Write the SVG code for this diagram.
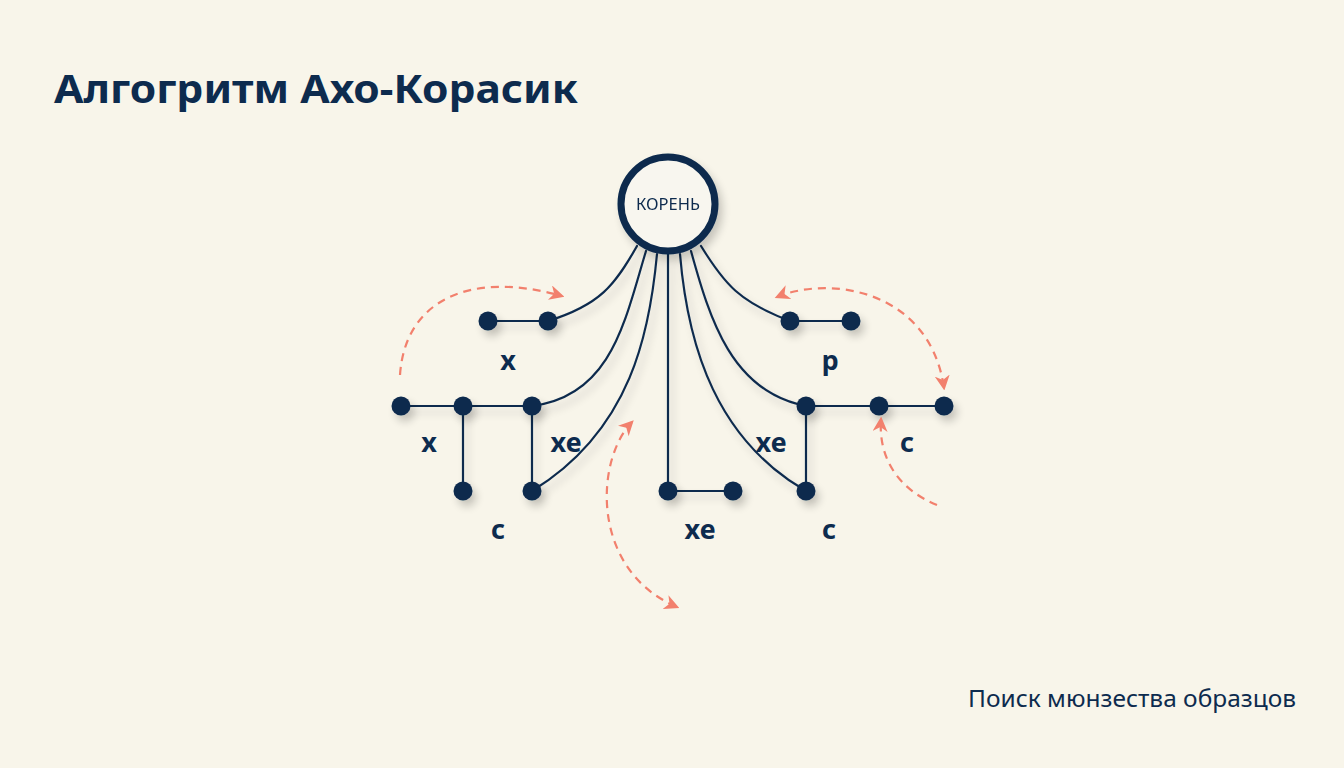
<svg xmlns="http://www.w3.org/2000/svg" width="1344" height="768" viewBox="0 0 1344 768">
<defs>
<filter id="sh" x="-20%" y="-20%" width="140%" height="140%">
<feGaussianBlur in="SourceAlpha" stdDeviation="4"/>
<feOffset dx="4" dy="6" result="b"/>
<feComponentTransfer><feFuncA type="linear" slope="0.2"/></feComponentTransfer>
<feMerge><feMergeNode/><feMergeNode in="SourceGraphic"/></feMerge>
</filter>
<marker id="ah" viewBox="0 0 12 12" refX="10" refY="6" markerWidth="15" markerHeight="15" markerUnits="userSpaceOnUse" orient="auto-start-reverse">
<path d="M0,0 L12,6 L0,12 L3.5,6 z" fill="#f2806d"/>
</marker>
<style>
.edge{fill:none;stroke:#0d2b4e;stroke-width:2.2;stroke-linecap:round}
.node{fill:#0d2b4e}
.lbl{font-family:"Noto Sans","Open Sans",sans-serif;font-weight:700;font-size:27px;fill:#0d2b4e;text-anchor:middle}
.dash{fill:none;stroke:#f2806d;stroke-width:2.2;stroke-dasharray:8 6}
</style>
</defs>
<rect width="1344" height="768" fill="#f8f5ea"/>
<text x="54" y="103" font-family="Noto Sans, Open Sans, sans-serif" font-weight="700" font-size="40" fill="#0d2b4e" textLength="524" lengthAdjust="spacingAndGlyphs">Алгогритм Ахо-Корасик</text>
<text x="968" y="707" font-family="Noto Sans, Open Sans, sans-serif" font-size="23" fill="#0d2b4e" textLength="328" lengthAdjust="spacingAndGlyphs">Поиск мюнзества образцов</text>

<g id="connectors" filter="url(#sh)">
<path class="edge" d="M637,246 C615,285 600,305 548,321"/>
<path class="edge" d="M646,251 C625,320 612,396 532,406"/>
<path class="edge" d="M657,254 C650,330 632,430 532,491"/>
<path class="edge" d="M668,254 L668,491"/>
<path class="edge" d="M680,254 C688,350 718,440 806,491"/>
<path class="edge" d="M691,251 C710,320 732,392 806,406"/>
<path class="edge" d="M701,246 C725,285 740,302 790,321"/>
<path class="edge" d="M488,321 L548,321"/>
<path class="edge" d="M401,406 L532,406 M463,406 L463,491 M532,406 L532,491"/>
<path class="edge" d="M668,491 L733,491"/>
<path class="edge" d="M790,321 L851,321"/>
<path class="edge" d="M806,406 L944,406 M806,406 L806,491"/>
</g>

<g id="root" filter="url(#sh)">
<circle cx="668" cy="204" r="47" fill="#f8f6ef" stroke="#0d2b4e" stroke-width="7"/>
<text x="668" y="210" font-family="Noto Sans, Open Sans, sans-serif" font-size="16.5" fill="#0d2b4e" text-anchor="middle">КОРЕНЬ</text>
</g>

<g id="nodes" filter="url(#sh)">
<circle class="node" cx="488" cy="321" r="9.5"/>
<circle class="node" cx="548" cy="321" r="9.5"/>
<circle class="node" cx="401" cy="406" r="9.5"/>
<circle class="node" cx="463" cy="406" r="9.5"/>
<circle class="node" cx="532" cy="406" r="9.5"/>
<circle class="node" cx="463" cy="491" r="9.5"/>
<circle class="node" cx="532" cy="491" r="9.5"/>
<circle class="node" cx="668" cy="491" r="9.5"/>
<circle class="node" cx="733" cy="491" r="9.5"/>
<circle class="node" cx="790" cy="321" r="9.5"/>
<circle class="node" cx="851" cy="321" r="9.5"/>
<circle class="node" cx="806" cy="406" r="9.5"/>
<circle class="node" cx="879" cy="406" r="9.5"/>
<circle class="node" cx="944" cy="406" r="9.5"/>
<circle class="node" cx="806" cy="491" r="9.5"/>
</g>

<g id="labels">
<text class="lbl" x="508" y="370">х</text>
<text class="lbl" x="429" y="452">х</text>
<text class="lbl" x="566" y="452">хе</text>
<text class="lbl" x="498" y="539">с</text>
<text class="lbl" x="700" y="539">хе</text>
<text class="lbl" x="830" y="370">р</text>
<text class="lbl" x="771" y="452">хе</text>
<text class="lbl" x="907" y="452">с</text>
<text class="lbl" x="829" y="539">с</text>
</g>

<g id="links">
<path class="dash" marker-end="url(#ah)" d="M400,375 C405,300 470,270 562,296"/>
<path class="dash" marker-start="url(#ah)" marker-end="url(#ah)" d="M777,297 C830,275 930,290 944,388"/>
<path class="dash" marker-end="url(#ah)" d="M937,505 C900,490 878,460 881,419"/>
<path class="dash" marker-start="url(#ah)" marker-end="url(#ah)" d="M632,422 C595,460 590,570 677,607"/>
</g>
</svg>
